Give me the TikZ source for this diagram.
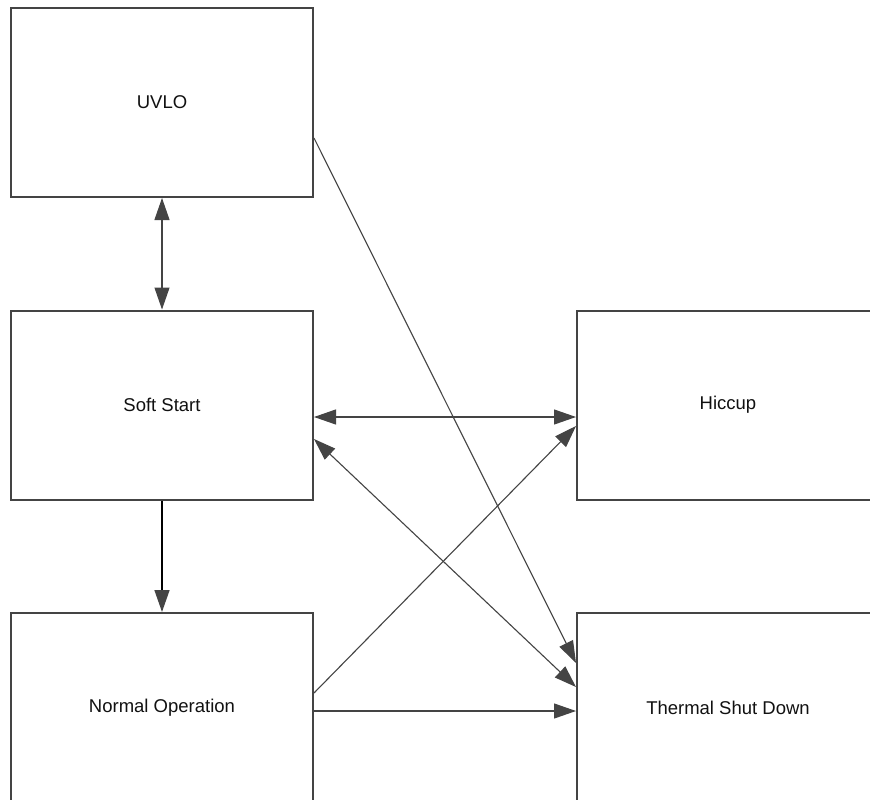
\documentclass[tikz,border=0pt]{standalone}
\usepackage{fontspec}
\setmainfont{Liberation Sans}
\usetikzlibrary{arrows.meta}
\definecolor{edge}{HTML}{444444}
\definecolor{txt}{HTML}{111111}
\tikzset{
  statebox/.style={draw=edge, line width=2pt, fill=white, rectangle,
    minimum width=302pt, minimum height=189pt, inner sep=0pt,
    font=\fontsize{18.5}{22}\selectfont, text=txt},
  conn/.style={draw=edge, line width=1.1pt,
    -{Triangle[length=22pt,width=15pt]}},
  bconn/.style={conn, {Triangle[length=22pt,width=15pt]}-{Triangle[length=22pt,width=15pt]}},
  darkconn/.style={draw=black, line width=1.5pt,
    -{Triangle[length=22pt,width=15pt,color=edge]}}
}
\begin{document}
\begin{tikzpicture}[x=1pt,y=-1pt]
\clip (0,0) rectangle (870,800);
\fill[white] (0,0) rectangle (870,800);
\node[statebox] (uvlo) at (162,102.5) {UVLO};
\node[statebox] (soft) at (162,405) {Soft Start};
\node[statebox] (norm) at (162,707.5) {Normal Operation};
\node[statebox] (hic) at (728,405) {Hiccup};
\node[statebox] (tsd) at (728,707.5) {Thermal Shut Down};
\draw[bconn] (uvlo.south) -- (soft.north);
\draw[darkconn] (soft.south) -- (norm.north);
\draw[bconn] ([yshift=-12pt]soft.east) -- ([yshift=-12pt]hic.west);
\draw[conn] ([yshift=14.5pt]norm.east) -- ([yshift=-21pt]hic.west);
\draw[conn] ([yshift=-3.5pt]norm.east) -- ([yshift=-3.5pt]tsd.west);
\draw[bconn] ([yshift=-34pt]soft.east) -- ([yshift=20.5pt]tsd.west);
\draw[conn] ([yshift=-35.5pt]uvlo.east) -- ([yshift=44.5pt]tsd.west);
\end{tikzpicture}
\end{document}
